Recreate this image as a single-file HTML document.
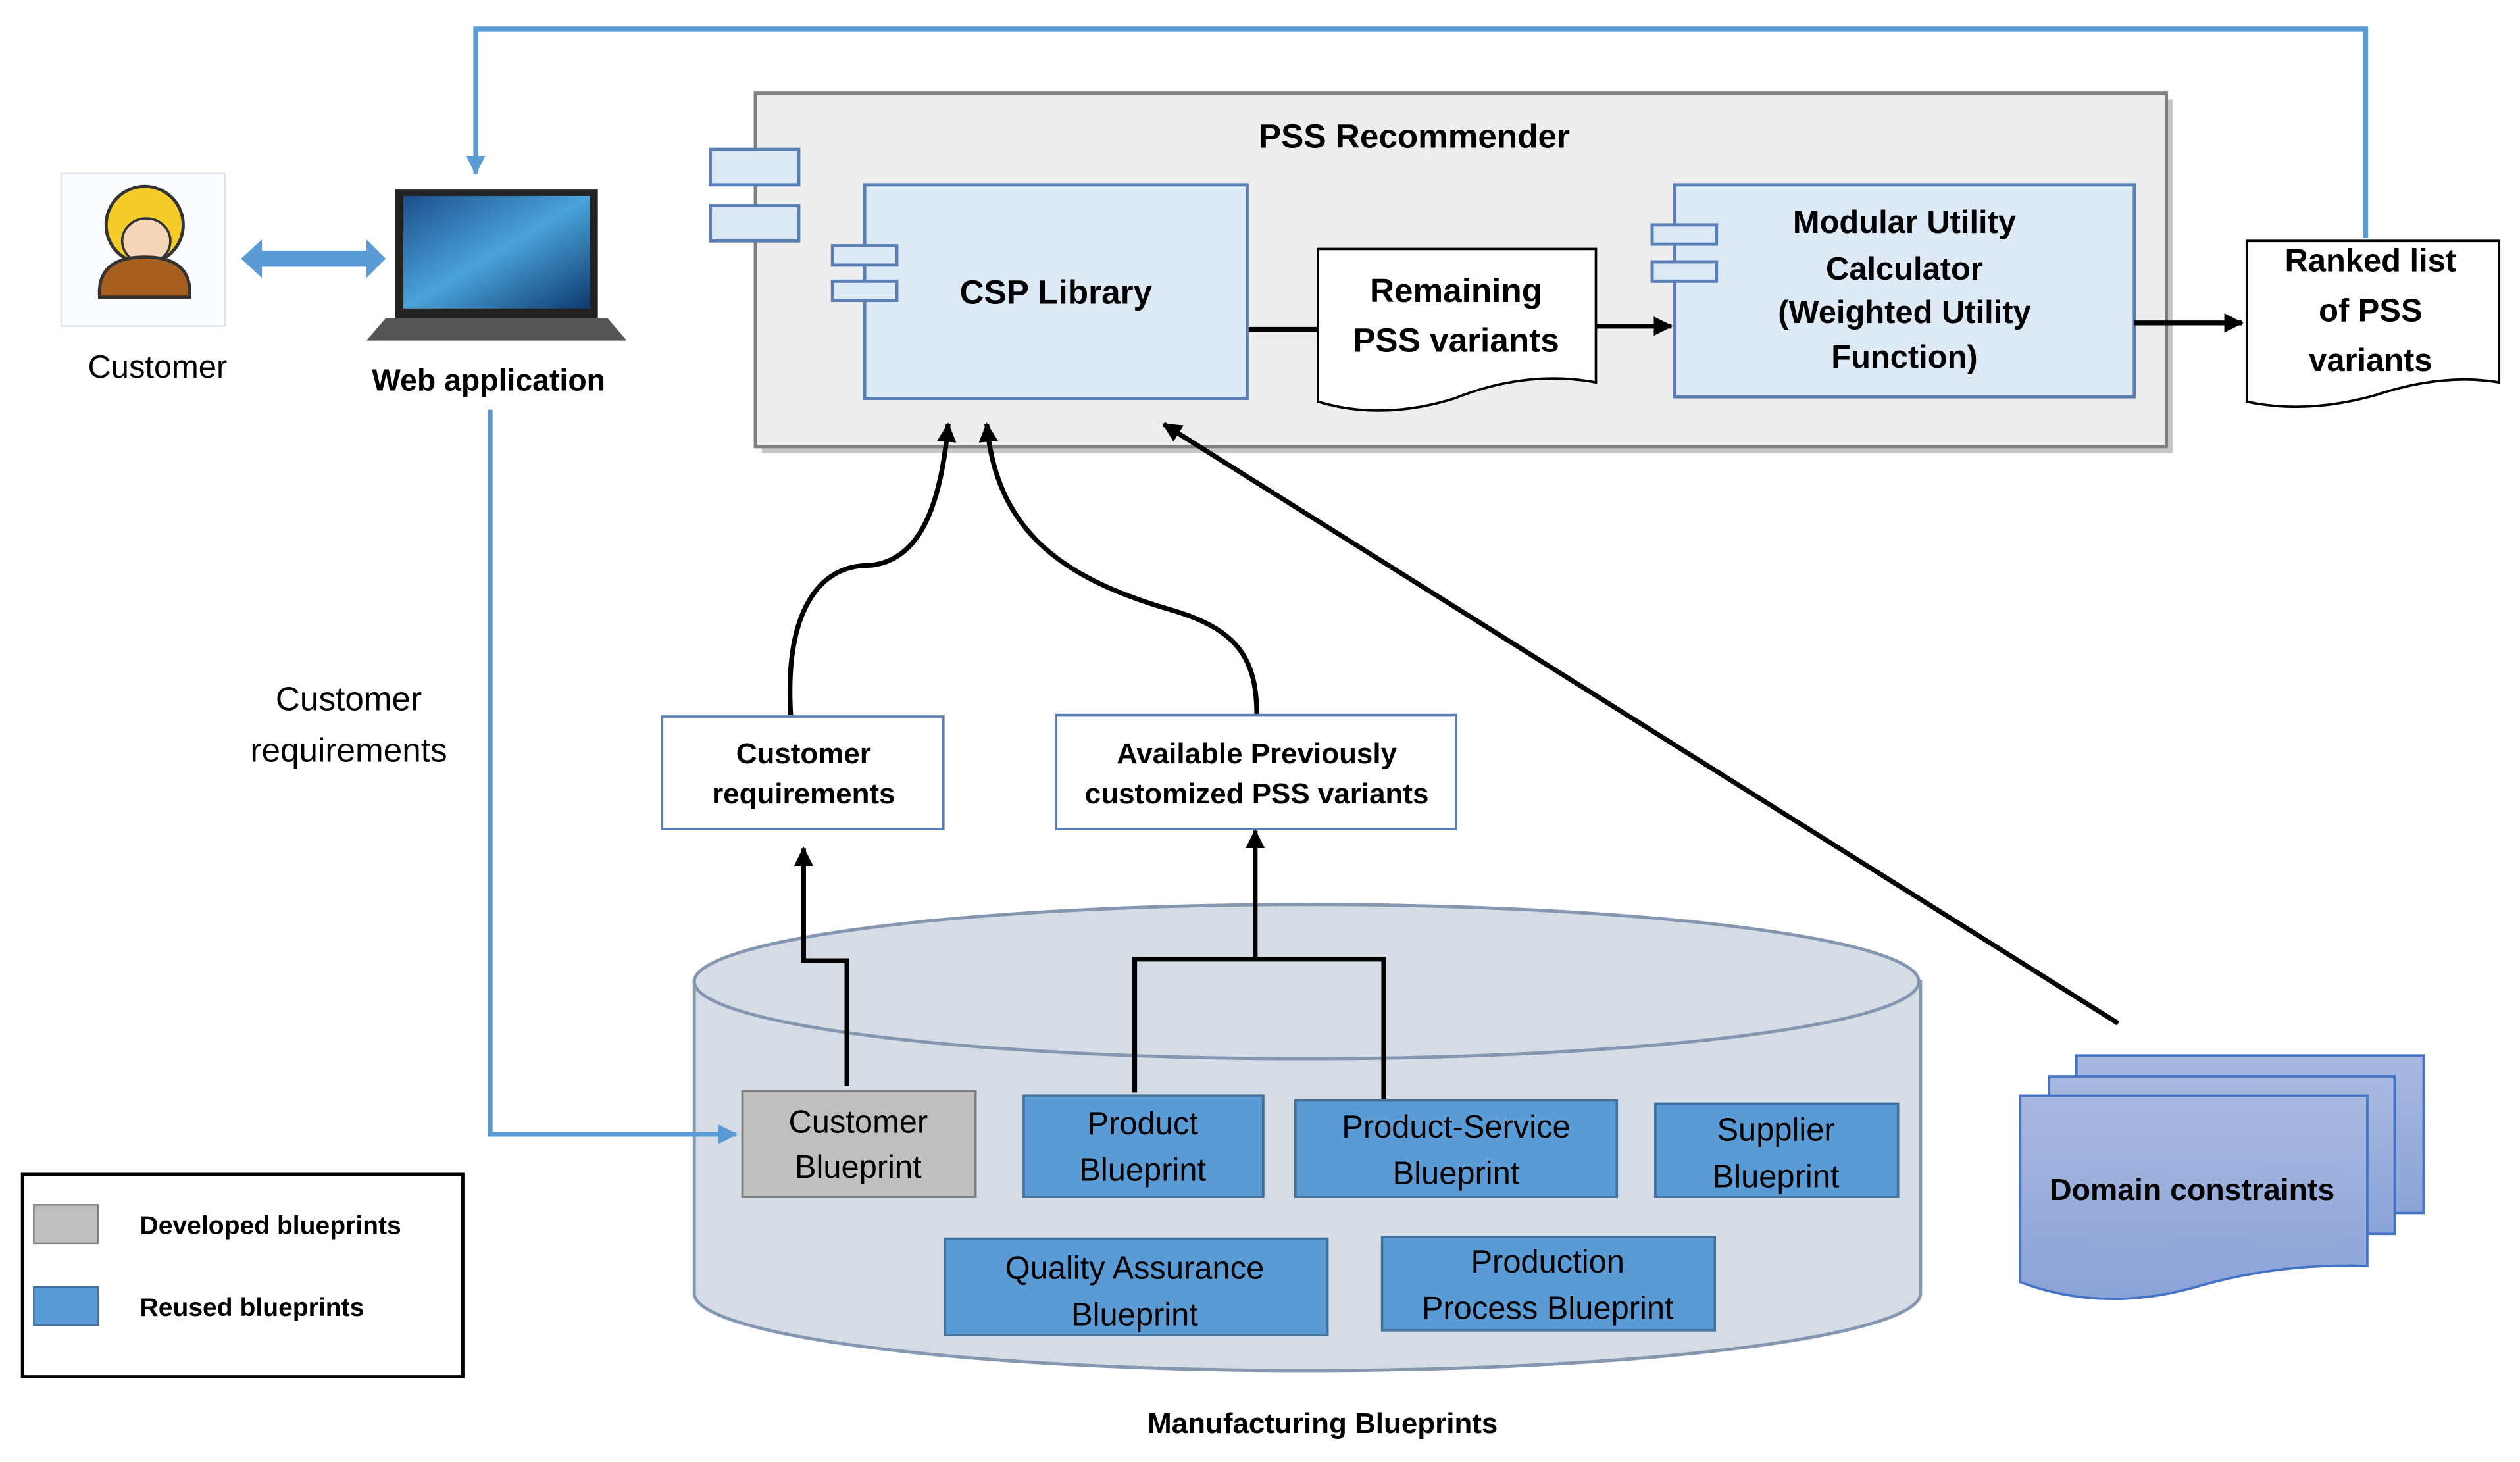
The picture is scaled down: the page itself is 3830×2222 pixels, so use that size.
<!DOCTYPE html>
<html><head><meta charset="utf-8"><style>html,body{margin:0;padding:0;background:#fff}svg{display:block}text{font-family:"Liberation Sans",sans-serif}</style></head><body>
<svg width="3830" height="2222" viewBox="0 0 1568 910" preserveAspectRatio="none" xmlns="http://www.w3.org/2000/svg">
<defs>
<marker id="ab" markerWidth="12" markerHeight="12" refX="11" refY="6" orient="auto" markerUnits="userSpaceOnUse"><path d="M0,0 L12,6 L0,12z" fill="#000"/></marker>
<marker id="au" markerWidth="12" markerHeight="12" refX="11" refY="6" orient="auto" markerUnits="userSpaceOnUse"><path d="M0,0 L12,6 L0,12z" fill="#5b9bd5"/></marker>
<linearGradient id="dg" x1="0" y1="0" x2="0" y2="1"><stop offset="0" stop-color="#a9b8df"/><stop offset="1" stop-color="#8aa3d8"/></linearGradient>
<linearGradient id="sc" x1="0" y1="0" x2="1" y2="1"><stop offset="0" stop-color="#1d4e8c"/><stop offset="0.5" stop-color="#4aa3d8"/><stop offset="1" stop-color="#0e3a70"/></linearGradient>
</defs>
<polyline points="1472,148 1472,18 296,18 296,108" fill="none" stroke="#5b9bd5" stroke-width="3" marker-end="url(#au)"/>
<rect x="38" y="108" width="102" height="95" fill="#fbfcfe" stroke="#dde3ea"/>
<circle cx="90" cy="140" r="24" fill="#f5cc2a" stroke="#333" stroke-width="2"/>
<ellipse cx="91" cy="150" rx="15" ry="14" fill="#f6d6b8" stroke="#333" stroke-width="1.5"/>
<path d="M62,185 Q60,160 90,160 Q120,160 118,185 Z" fill="#a65f1e" stroke="#333" stroke-width="2"/>
<text x="98" y="235" font-size="20" text-anchor="middle">Customer</text>
<path d="M150,161 L163,149 L163,156 L228,156 L228,149 L240,161 L228,173 L228,166 L163,166 L163,173 Z" fill="#5b9bd5"/>
<rect x="246" y="118" width="126" height="80" fill="#222"/>
<rect x="251" y="122" width="116" height="70" fill="url(#sc)"/>
<path d="M240,198 L378,198 L390,212 L228,212 Z" fill="#555"/>
<text x="304" y="243" font-size="19" font-weight="bold" text-anchor="middle">Web application</text>
<text x="217" y="442" font-size="21" text-anchor="middle">Customer</text>
<text x="217" y="474" font-size="21" text-anchor="middle">requirements</text>
<rect x="474" y="62" width="878" height="220" fill="#c8c8c8"/>
<rect x="470" y="58" width="878" height="220" fill="#ededed" stroke="#7f7f7f" stroke-width="2"/>
<text x="880" y="92" font-size="21" font-weight="bold" text-anchor="middle">PSS Recommender</text>
<rect x="442" y="93" width="55" height="22" fill="#dde9f5" stroke="#5a7fb5" stroke-width="2"/>
<rect x="442" y="128" width="55" height="22" fill="#dde9f5" stroke="#5a7fb5" stroke-width="2"/>
<rect x="538" y="115" width="238" height="133" fill="#dde9f5" stroke="#5a7fb5" stroke-width="2"/>
<rect x="518" y="153" width="40" height="12" fill="#dde9f5" stroke="#5a7fb5" stroke-width="2"/>
<rect x="518" y="175" width="40" height="12" fill="#dde9f5" stroke="#5a7fb5" stroke-width="2"/>
<text x="657" y="189" font-size="21" font-weight="bold" text-anchor="middle">CSP Library</text>
<line x1="777" y1="205" x2="820" y2="205" stroke="#000" stroke-width="3"/>
<path d="M820,155 L993,155 L993,238 Q950,230 905,248 Q860,262 820,250 Z" fill="#fff" stroke="#000" stroke-width="1.5"/>
<text x="906" y="188" font-size="21" font-weight="bold" text-anchor="middle">Remaining</text>
<text x="906" y="219" font-size="21" font-weight="bold" text-anchor="middle">PSS variants</text>
<line x1="993" y1="203" x2="1040" y2="203" stroke="#000" stroke-width="3" marker-end="url(#ab)"/>
<rect x="1042" y="115" width="286" height="132" fill="#dde9f5" stroke="#5a7fb5" stroke-width="2"/>
<rect x="1028" y="140" width="40" height="12" fill="#dde9f5" stroke="#5a7fb5" stroke-width="2"/>
<rect x="1028" y="163" width="40" height="12" fill="#dde9f5" stroke="#5a7fb5" stroke-width="2"/>
<g font-size="20" font-weight="bold" text-anchor="middle">
<text x="1185" y="145">Modular Utility</text>
<text x="1185" y="174">Calculator</text>
<text x="1185" y="201">(Weighted Utility</text>
<text x="1185" y="229">Function)</text>
</g>
<line x1="1328" y1="201" x2="1395" y2="201" stroke="#000" stroke-width="3" marker-end="url(#ab)"/>
<path d="M1398,150 L1555,150 L1555,238 Q1520,232 1478,246 Q1435,258 1398,250 Z" fill="#fff" stroke="#000" stroke-width="1.5"/>
<g font-size="20" font-weight="bold" text-anchor="middle">
<text x="1475" y="169">Ranked list</text>
<text x="1475" y="200">of PSS</text>
<text x="1475" y="231">variants</text>
</g>
<path d="M492,445 C488,380 510,352 540,352 C570,350 585,320 590,264" fill="none" stroke="#000" stroke-width="3" marker-end="url(#ab)"/>
<path d="M782,445 C782,410 770,392 730,380 C660,360 620,330 614,264" fill="none" stroke="#000" stroke-width="3" marker-end="url(#ab)"/>
<line x1="1318" y1="637" x2="724" y2="264" stroke="#000" stroke-width="3" marker-end="url(#ab)"/>
<rect x="412" y="446" width="175" height="70" fill="#fff" stroke="#5a7fb5" stroke-width="1.5"/>
<text x="500" y="475" font-size="18" font-weight="bold" text-anchor="middle">Customer</text>
<text x="500" y="500" font-size="18" font-weight="bold" text-anchor="middle">requirements</text>
<rect x="657" y="445" width="249" height="71" fill="#fff" stroke="#5a7fb5" stroke-width="1.5"/>
<text x="782" y="475" font-size="18" font-weight="bold" text-anchor="middle">Available Previously</text>
<text x="782" y="500" font-size="18" font-weight="bold" text-anchor="middle">customized PSS variants</text>
<path d="M432,611 L432,805 A381,48 0 0 0 1195,805 L1195,611 Z" fill="#d6dce5" stroke="#8496b0" stroke-width="2"/>
<ellipse cx="813" cy="611" rx="381" ry="48" fill="#d6dce5" stroke="#8496b0" stroke-width="2"/>
<polyline points="305,255 305,706 458,706" fill="none" stroke="#5b9bd5" stroke-width="3" marker-end="url(#au)"/>
<polyline points="527,676 527,598 500,598 500,528" fill="none" stroke="#000" stroke-width="3" marker-end="url(#ab)"/>
<polyline points="706,680 706,597 861,597 861,684" fill="none" stroke="#000" stroke-width="3"/>
<line x1="781" y1="597" x2="781" y2="517" stroke="#000" stroke-width="3" marker-end="url(#ab)"/>
<g font-size="20" text-anchor="middle" fill="#000">
<rect x="462" y="679" width="145" height="66" fill="#bfbfbf" stroke="#7f7f7f" stroke-width="1.5"/>
<text x="534" y="705">Customer</text><text x="534" y="733">Blueprint</text>
<rect x="637" y="682" width="149" height="63" fill="#5b9bd5" stroke="#41719c" stroke-width="1.5"/>
<text x="711" y="706">Product</text><text x="711" y="735">Blueprint</text>
<rect x="806" y="685" width="200" height="60" fill="#5b9bd5" stroke="#41719c" stroke-width="1.5"/>
<text x="906" y="708">Product-Service</text><text x="906" y="737">Blueprint</text>
<rect x="1030" y="687" width="151" height="58" fill="#5b9bd5" stroke="#41719c" stroke-width="1.5"/>
<text x="1105" y="710">Supplier</text><text x="1105" y="739">Blueprint</text>
<rect x="588" y="771" width="238" height="60" fill="#5b9bd5" stroke="#41719c" stroke-width="1.5"/>
<text x="706" y="796">Quality Assurance</text><text x="706" y="825">Blueprint</text>
<rect x="860" y="770" width="207" height="58" fill="#5b9bd5" stroke="#41719c" stroke-width="1.5"/>
<text x="963" y="792">Production</text><text x="963" y="821">Process Blueprint</text>
</g>
<text x="823" y="892" font-size="18" font-weight="bold" text-anchor="middle">Manufacturing Blueprints</text>
<rect x="14" y="731" width="274" height="126" fill="#fff" stroke="#000" stroke-width="2"/>
<rect x="21" y="750" width="40" height="24" fill="#bfbfbf" stroke="#7f7f7f"/>
<rect x="21" y="801" width="40" height="24" fill="#5b9bd5" stroke="#41719c"/>
<text x="87" y="768" font-size="16" font-weight="bold">Developed blueprints</text>
<text x="87" y="819" font-size="16" font-weight="bold">Reused  blueprints</text>
<rect x="1292" y="657" width="216" height="98" fill="url(#dg)" stroke="#4472c4" stroke-width="1.5"/>
<rect x="1275" y="670" width="215" height="98" fill="url(#dg)" stroke="#4472c4" stroke-width="1.5"/>
<path d="M1257,682 L1473,682 L1473,788 Q1420,786 1370,800 Q1310,818 1257,798 Z" fill="url(#dg)" stroke="#4472c4" stroke-width="1.5"/>
<text x="1364" y="747" font-size="19" font-weight="bold" text-anchor="middle">Domain constraints</text>
</svg>
</body></html>
